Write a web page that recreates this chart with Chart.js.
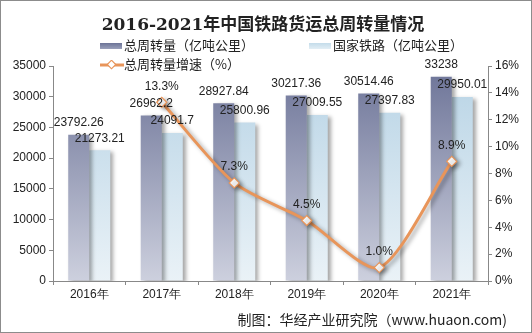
<!DOCTYPE html>
<html>
<head>
<meta charset="utf-8">
<script src="https://cdn.jsdelivr.net/npm/chart.js@4"></script>
<style>
  html, body { margin: 0; padding: 0; background: #fff; }
  .frame { position: relative; width: 530px; height: 331px; border: 1px solid #8c8c8c; overflow: hidden; font-family: "Liberation Sans", "Noto Sans CJK SC", sans-serif; color: #222; }
  canvas { position: absolute; left: -1px; top: -1px; }
  .title { position: absolute; left: 0; width: 524px; top: 9px; text-align: center; font: bold 17px "DejaVu Serif", "Noto Sans CJK SC", serif; color: #222; }
  .lg { position: absolute; font-size: 13px; color: #222; white-space: nowrap; font-family: "Noto Sans CJK SC", sans-serif; }
  .sw { display: inline-block; width: 22px; height: 6px; vertical-align: middle; margin-right: 2px; }
  .footer { position: absolute; right: 24px; top: 308px; font-size: 14px; font-family: "Noto Sans CJK SC", sans-serif; color: #222; }
</style>
</head>
<body>
<div class="frame">
  <canvas id="c" width="532" height="333"></canvas>
  <div class="title">2016-2021年中国铁路货运总周转量情况</div>
  <div class="lg" style="left:99px;top:34px"><span class="sw" style="background:linear-gradient(#6c7397,#9aa0bb)"></span>总周转量（亿吨公里）</div>
  <div class="lg" style="left:308px;top:34px"><span class="sw" style="background:linear-gradient(#c4dcea,#e2eef5)"></span>国家铁路（亿吨公里）</div>
  <div class="lg" style="left:99px;top:53px"><svg width="24" height="10" style="vertical-align:middle;margin-right:0"><line x1="0" y1="5" x2="24" y2="5" stroke="#e8955a" stroke-width="3"/><rect x="8.5" y="1.5" width="6" height="6" transform="rotate(45 11.5 4.5)" fill="#fff" stroke="#e8955a" stroke-width="1.2"/></svg>总周转量增速（%）</div>
  <div class="footer">制图：华经产业研究院（www.huaon.com)</div>
</div>
<script>
// data
const years = ['2016年', '2017年', '2018年', '2019年', '2020年', '2021年'];
const totalTurnover = [23792.26, 26962.2, 28927.84, 30217.36, 30514.46, 33238];
const nationalRail = [21273.21, 24091.7, 25800.96, 27009.55, 27397.83, 29950.01];
const growthRate = [null, 13.3, 7.3, 4.5, 1.0, 8.9];
const totalLabels = ['23792.26', '26962.2', '28927.84', '30217.36', '30514.46', '33238'];
const railLabels = ['21273.21', '24091.7', '25800.96', '27009.55', '27397.83', '29950.01'];

function vGrad(chart, top, bottom) {
  const a = chart.chartArea;
  if (!a) return top;
  const g = chart.ctx.createLinearGradient(0, a.top, 0, a.bottom);
  g.addColorStop(0, top);
  g.addColorStop(1, bottom);
  return g;
}

// soft shadow under bars and line
const shadowPlugin = {
  id: 'shadow',
  beforeDatasetDraw(chart) {
    const ctx = chart.ctx;
    ctx.save();
    ctx.shadowColor = 'rgba(0,0,0,0.35)';
    ctx.shadowBlur = 4;
    ctx.shadowOffsetX = 3;
    ctx.shadowOffsetY = 2;
  },
  afterDatasetDraw(chart) { chart.ctx.restore(); }
};

// value labels above bars and points (dataset 0 = line, 1/2 = bars)
const labelPlugin = {
  id: 'labels',
  afterDatasetsDraw(chart) {
    const ctx = chart.ctx;
    ctx.save();
    ctx.fillStyle = '#222';
    ctx.font = '12px "Liberation Sans", sans-serif';
    ctx.textAlign = 'center';
    ctx.textBaseline = 'middle';
    [[1, totalLabels], [2, railLabels]].forEach(([i, labels]) => {
      chart.getDatasetMeta(i).data.forEach((bar, j) => {
        ctx.fillText(labels[j], bar.x, bar.y - 12);
      });
    });
    chart.getDatasetMeta(0).data.forEach((pt, j) => {
      if (growthRate[j] == null) return;
      ctx.fillText(growthRate[j].toFixed(1) + '%', pt.x, pt.y - 16);
    });
    ctx.restore();
  }
};

const tickFont = { family: '"Liberation Sans", sans-serif', size: 12 };

new Chart(document.getElementById('c'), {
  data: {
    labels: years,
    datasets: [
      {
        type: 'line', label: '总周转量增速（%）', data: growthRate, yAxisID: 'y1',
        borderColor: '#e8955a', borderWidth: 3, tension: 0.25,
        pointStyle: 'rectRot', pointRadius: 5, pointBorderWidth: 1.2,
        pointBackgroundColor: '#fff', pointBorderColor: '#e8955a',
        spanGaps: false, order: 0
      },
      {
        type: 'bar', label: '总周转量（亿吨公里）', data: totalTurnover, yAxisID: 'y',
        backgroundColor: c => vGrad(c.chart, '#6c7397', '#cdd0de'),
        categoryPercentage: 0.58, barPercentage: 1.0, order: 1
      },
      {
        type: 'bar', label: '国家铁路（亿吨公里）', data: nationalRail, yAxisID: 'y',
        backgroundColor: c => vGrad(c.chart, '#b7d3e5', '#eaf2f7'),
        categoryPercentage: 0.58, barPercentage: 1.0, order: 2
      }
    ]
  },
  options: {
    responsive: false,
    animation: false,
    layout: { padding: { top: 66, left: 0, right: 0, bottom: 0 } },
    plugins: { legend: { display: false }, tooltip: { enabled: false }, title: { display: false } },
    scales: {
      x: {
        grid: { display: true, drawOnChartArea: false, offset: true, tickLength: 4, color: '#888' },
        border: { color: '#888' },
        ticks: { color: '#222', font: tickFont, padding: 2 },
        afterFit: s => { s.height = 52; }
      },
      y: {
        position: 'left', min: 0, max: 35000,
        ticks: { stepSize: 5000, color: '#222', font: tickFont, padding: 3, callback: v => String(v) },
        grid: { display: true, drawOnChartArea: false, tickLength: 4, color: '#888' },
        border: { color: '#888' },
        afterFit: s => { s.width = 53; }
      },
      y1: {
        position: 'right', min: 0, max: 16,
        ticks: { stepSize: 2, color: '#222', font: tickFont, padding: 3, callback: v => v + '%' },
        grid: { display: true, drawOnChartArea: false, tickLength: 4, color: '#888' },
        border: { color: '#888' },
        afterFit: s => { s.width = 44; }
      }
    }
  },
  plugins: [shadowPlugin, labelPlugin]
});
</script>
</body>
</html>
